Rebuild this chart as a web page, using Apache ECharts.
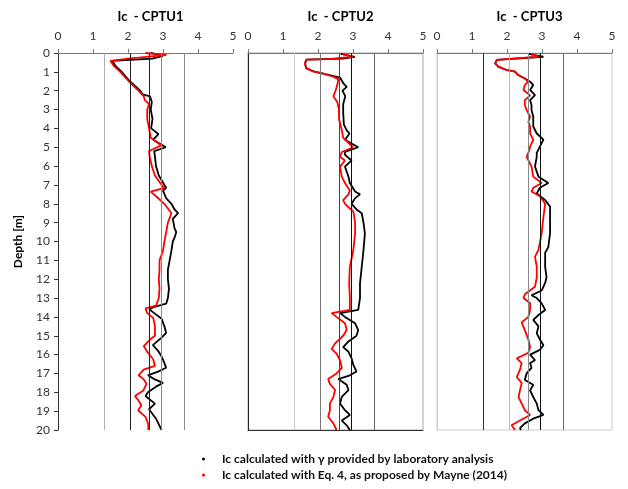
<!DOCTYPE html>
<html>
<head>
<meta charset="utf-8">
<script src="https://cdn.jsdelivr.net/npm/echarts@6/dist/echarts.min.js"></script>
<style>
html,body{margin:0;padding:0;background:#fff;}
#chart{width:628px;height:489px;}
</style>
</head>
<body>
<div id="chart"></div>
<script>
// ---------- data ----------
var panelTitles = ['Ic  - CPTU1', 'Ic  - CPTU2', 'Ic  - CPTU3'];
var seriesNames = ['Ic calculated with \u03b3 provided by laboratory analysis',
                   'Ic calculated with Eq. 4, as proposed by Mayne (2014)'];
var icTicks = [0, 1, 2, 3, 4, 5];
var depthTicks = [0, 20];
var icBoundaries = [1.31, 2.05, 2.6, 2.95, 3.6];

// CPTU1 - laboratory gamma
var cptu1LabDepth = [0,0.15,0.3,0.42,0.7,1.0,1.5,2.0,2.2,2.3,2.6,3.0,3.5,4.0,4.3,4.6,5.0,5.2,5.5,6.0,6.5,7.0,7.15,7.3,7.7,8.0,8.3,8.5,8.8,9.3,9.5,9.8,10.0,10.5,11.0,11.5,12.0,12.5,13.0,13.3,13.5,13.6,13.8,14.1,14.5,14.85,15.1,15.5,15.8,16.1,16.45,16.7,16.9,17.1,17.3,17.5,17.7,18.0,18.2,18.6,18.9,19.15,19.4,19.7,20.0];
var cptu1LabIc    = [2.65,3.0,2.7,1.55,1.65,1.82,2.05,2.35,2.42,2.63,2.68,2.65,2.7,2.66,2.87,2.72,3.08,2.75,2.77,2.8,2.88,3.04,3.09,3.0,3.09,3.24,3.33,3.43,3.28,3.33,3.38,3.33,3.28,3.24,3.19,3.14,3.14,3.17,3.14,3.09,2.71,2.61,2.75,2.96,3.04,3.09,2.96,2.71,2.86,2.96,3.04,3.09,2.86,2.57,2.75,3.0,2.8,2.57,2.5,2.77,2.6,2.7,2.8,2.88,2.96];
// CPTU1 - Mayne (2014)
var cptu1MayneDepth = [0,0.1,0.25,0.3,0.42,0.7,1.0,1.5,2.0,2.3,2.5,2.7,3.0,3.5,4.0,4.5,4.9,5.2,5.5,6.0,6.5,7.0,7.15,7.35,7.6,8.0,8.5,9.0,9.5,10.0,10.5,11.0,11.5,12.0,12.5,13.0,13.4,13.55,13.6,13.8,14.05,14.5,15.0,15.2,15.55,15.9,16.25,16.6,16.8,17.1,17.3,17.55,17.9,18.2,18.4,18.7,18.95,19.3,19.7,20.0];
var cptu1MayneIc    = [2.5,3.1,2.3,2.0,1.5,1.6,1.78,2.02,2.3,2.45,2.48,2.6,2.55,2.55,2.6,2.65,2.95,2.6,2.62,2.68,2.77,2.96,3.04,2.65,2.8,3.04,3.24,3.14,3.09,3.04,3.0,2.9,2.9,2.88,2.9,2.88,2.8,2.5,2.45,2.55,2.72,2.77,2.77,2.63,2.45,2.57,2.72,2.77,2.45,2.3,2.44,2.53,2.44,2.2,2.29,2.38,2.29,2.5,2.58,2.58];

// CPTU2 - laboratory gamma
var cptu2LabDepth = [0.05,0.2,0.3,0.35,0.55,0.8,0.98,1.1,1.3,1.6,1.8,2.0,2.3,2.7,3.2,3.8,4.1,4.27,4.6,5.0,5.25,5.4,5.7,6.03,6.56,6.9,7.35,7.5,7.7,8.0,8.3,8.5,9.0,9.57,10.45,11.34,12.22,13.0,13.63,13.8,14.0,14.34,14.7,15.0,15.3,15.6,15.85,16.2,16.55,16.9,17.1,17.3,17.6,17.88,18.24,18.6,18.95,19.2,19.5,19.75,20.0];
var cptu2LabIc    = [2.65,3.05,2.7,1.67,1.63,1.66,1.87,2.15,2.63,2.72,2.82,2.7,2.78,2.72,2.72,2.74,2.82,2.9,2.77,3.15,2.77,2.77,2.96,2.77,2.87,2.91,3.06,3.2,3.06,2.96,3.1,3.25,3.3,3.34,3.3,3.25,3.2,3.2,3.15,2.63,2.77,3.06,3.15,3.1,2.87,2.72,2.87,2.96,3.01,3.1,2.91,2.58,2.82,2.87,2.68,2.63,2.77,2.91,2.68,2.82,2.91];
// CPTU2 - Mayne (2014)
var cptu2MayneDepth = [0.05,0.2,0.32,0.35,0.55,0.8,0.98,1.1,1.26,1.4,1.7,2.0,2.3,2.6,3.0,3.5,4.1,4.5,5.0,5.25,5.5,5.7,6.03,6.56,6.9,7.3,7.5,7.8,8.0,8.25,8.4,9.0,9.57,10.45,11.34,12.22,13.0,13.63,13.8,14.0,14.34,14.7,15.0,15.4,15.7,15.95,16.3,16.7,17.0,17.3,17.55,17.88,18.24,18.6,18.95,19.3,19.65,20.0];
var cptu2MayneIc    = [2.7,3.0,2.3,1.67,1.63,1.66,1.87,2.15,2.44,2.58,2.55,2.5,2.44,2.55,2.6,2.6,2.68,2.72,3.0,2.68,2.63,2.77,2.63,2.68,2.77,2.91,2.87,2.72,2.77,2.91,3.01,3.06,3.06,3.01,2.91,2.89,2.91,2.91,2.39,2.53,2.77,2.82,2.72,2.49,2.39,2.53,2.63,2.68,2.53,2.29,2.34,2.49,2.44,2.34,2.34,2.29,2.44,2.53];

// CPTU3 - laboratory gamma
var cptu3LabDepth = [0.05,0.2,0.37,0.55,0.72,0.9,0.99,1.17,1.35,1.52,1.7,1.96,2.23,2.5,2.76,3.02,3.38,3.65,3.9,4.27,4.6,4.97,5.3,5.5,6.03,6.56,6.9,7.15,7.45,7.8,8.15,8.7,9.57,10.3,10.6,11.35,11.9,12.2,12.6,12.85,13.0,13.28,13.63,13.9,14.16,14.5,14.87,15.2,15.5,15.75,16.0,16.3,16.45,16.7,17.0,17.35,17.6,17.9,18.25,18.6,18.95,19.2,19.4,19.65,19.9,20.0];
var cptu3LabIc    = [2.61,3.04,1.71,1.66,1.75,1.99,2.23,2.32,2.51,2.66,2.75,2.66,2.8,2.66,2.7,2.7,2.75,2.75,2.75,2.85,3.04,2.94,2.85,2.85,2.8,2.9,3.18,2.94,2.85,3.09,3.23,3.23,3.23,3.18,3.09,3.09,3.13,3.09,2.99,2.7,2.85,2.99,3.09,2.9,2.75,2.9,2.85,2.94,3.04,2.94,2.66,2.8,2.66,2.7,2.56,2.51,2.75,2.66,2.75,2.85,2.9,3.04,2.75,2.51,2.37,2.4];
// CPTU3 - Mayne (2014)
var cptu3MayneDepth = [0.05,0.2,0.37,0.55,0.72,0.9,0.99,1.17,1.35,1.52,1.7,1.96,2.25,2.5,2.76,3.02,3.38,3.65,3.9,4.27,4.6,4.97,5.3,5.5,6.03,6.56,6.9,7.15,7.35,7.6,8.0,8.7,9.57,10.45,10.8,11.35,11.9,12.4,12.8,13.0,13.28,13.63,14.0,14.3,14.7,15.2,15.6,15.9,16.2,16.45,16.8,17.2,17.5,17.9,18.25,18.6,18.95,19.2,19.5,19.75,20.0];
var cptu3MayneIc    = [2.7,2.9,1.71,1.66,1.75,1.99,2.23,2.32,2.51,2.6,2.51,2.47,2.66,2.51,2.51,2.56,2.66,2.61,2.66,2.66,2.75,2.66,2.61,2.56,2.7,2.75,2.99,2.75,2.7,2.94,3.09,3.04,2.99,2.9,2.8,2.85,2.85,2.8,2.51,2.47,2.66,2.66,2.61,2.42,2.51,2.61,2.66,2.61,2.28,2.42,2.37,2.28,2.42,2.37,2.33,2.42,2.51,2.66,2.37,2.13,2.23];

// ---------- styling ----------
var FONT = 'Lato, "Open Sans", sans-serif';
var panels = [
  {lab:[cptu1LabIc,cptu1LabDepth], mayne:[cptu1MayneIc,cptu1MayneDepth], left:58,
   bColors:['#b0b0b0','#222','#222','#888','#888'], grid:false, yLine:'#333', labels:true},
  {lab:[cptu2LabIc,cptu2LabDepth], mayne:[cptu2MayneIc,cptu2MayneDepth], left:248,
   bColors:['#c8c8c8','#777','#444','#111','#666'], grid:true, border:'#aaa', yLine:'#222', bottom:'#333', labels:false},
  {lab:[cptu3LabIc,cptu3LabDepth], mayne:[cptu3MayneIc,cptu3MayneDepth], left:437,
   bColors:['#333','#b8b8b8','#888','#111','#666'], grid:true, border:'#ccc', yLine:'#ccc', bottom:null, labels:false}
];
var TOP = 53, H = 377, W = 175;

function zip(a, b){ return a.map(function(v,i){ return [v, b[i]]; }); }

var grids = [], xAxes = [], yAxes = [], series = [], titles = [];
panels.forEach(function(p, i){
  grids.push({left:p.left, top:TOP, width:W, height:H, show:p.grid,
              borderColor:p.border || 'transparent', borderWidth:1, backgroundColor:'transparent'});
  titles.push({text:panelTitles[i], left:p.left + W/2, top:5, textAlign:'center',
               textStyle:{fontFamily:FONT, fontWeight:'bold', fontSize:13, color:'#000'}});
  xAxes.push({gridIndex:i, type:'value', position:'top', min:icTicks[0], max:icTicks[icTicks.length-1], interval:1,
              axisLine:{show:true, lineStyle:{color:'#777', width:1}},
              axisTick:{show:true, inside:false, length:4, lineStyle:{color:'#777'}},
              axisLabel:{margin:11, fontSize:12, color:'#333', fontFamily:FONT},
              splitLine:{show:false}});
  var yA = {gridIndex:i, type:'value', inverse:true, min:depthTicks[0], max:depthTicks[1], interval:1,
            axisLine:{show:true, onZero:false, lineStyle:{color:p.yLine, width:1}},
            axisTick:{show:p.labels, length:4, lineStyle:{color:'#333'}},
            axisLabel:{show:p.labels, margin:8, fontSize:12, color:'#333', fontFamily:FONT},
            splitLine:{show:false}};
  if (i === 0) {
    yA.name = 'Depth [m]'; yA.nameLocation = 'middle'; yA.nameGap = 34; yA.nameRotate = 90;
    yA.nameTextStyle = {fontFamily:FONT, fontWeight:'bold', fontSize:12, color:'#000'};
  }
  yAxes.push(yA);
  series.push({name:seriesNames[0], type:'line', xAxisIndex:i, yAxisIndex:i, showSymbol:false, z:2,
               data:zip(p.lab[0], p.lab[1]), lineStyle:{color:'#000', width:1.8}, itemStyle:{color:'#000'},
               markLine:{silent:true, symbol:'none', label:{show:false}, animation:false,
                 data:icBoundaries.map(function(v,k){ return {xAxis:v, lineStyle:{color:p.bColors[k], width:1, type:'solid'}}; })}});
  series.push({name:seriesNames[1], type:'line', xAxisIndex:i, yAxisIndex:i, showSymbol:false, z:3,
               data:zip(p.mayne[0], p.mayne[1]), lineStyle:{color:'#ff0000', width:1.8}, itemStyle:{color:'#ff0000'}});
});
// bottom line of panel 2
xAxes.push({gridIndex:1, type:'value', position:'bottom', min:0, max:5, show:true,
            axisLine:{show:true, onZero:false, lineStyle:{color:'#333'}}, axisTick:{show:false}, axisLabel:{show:false}, splitLine:{show:false}});

var chart = echarts.init(document.getElementById('chart'), null, {renderer:'canvas'});
chart.setOption({
  animation:false,
  backgroundColor:'#fff',
  title:titles,
  grid:grids,
  xAxis:xAxes,
  yAxis:yAxes,
  legend:{data:seriesNames, orient:'vertical', left:197, top:448, itemGap:4, icon:'circle', itemWidth:3, itemHeight:3,
          textStyle:{fontFamily:FONT, fontWeight:'bold', fontSize:12, color:'#111', padding:[0,0,0,12]}},
  series:series
});
</script>
</body>
</html>
